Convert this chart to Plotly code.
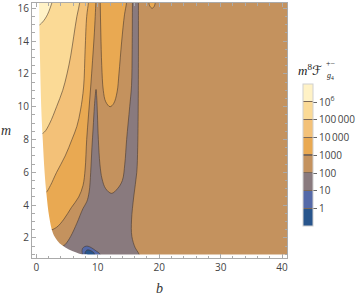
import plotly.graph_objects as go

# ---- colour levels (log10 of m^8 F) ----
levels = [0, 1, 2, 3, 4, 5, 6]
level_labels = ['1', '10', '100', '1000', '10\u2009000', '100\u2009000', '10<sup>6</sup>']
band_colors = ['#28558C', '#5469A8', '#897A7E', '#C4925E', '#E9A952', '#F3C178', '#FBDA96', '#FFF2C6']
line_col = 'rgba(70,55,45,0.65)'
bar_line_col = 'rgb(125,105,88)'

# ---- contour lines, (b, m) ----
# 10^6 level (upper-left corner)
c6_b = [3.1, 2.6, 1.8, 1.0, 0.3, -3, -3]
c6_m = [17.0, 16.4, 15.6, 15.15, 14.95, 14.95, 20]
# 10^5 level
c5_b = [7.3, 7.1, 6.6, 6.1, 5.6, 5.0, 4.3, 3.3, 2.2, 1.3, 0.5, -3, -3]
c5_m = [17.2, 16.4, 15.5, 14.3, 13.1, 12.0, 11.0, 10.0, 9.0, 8.45, 8.3, 8.3, 20]
# 10^4 level
c4_b = [8.6, 8.5, 8.2, 7.95, 7.7, 7.2, 6.6, 5.8, 4.7, 3.3, 2.3, 1.6, 1.0, -3, -3]
c4_m = [17.2, 16.4, 15.5, 13.5, 11.2, 9.8, 8.8, 8.0, 7.0, 6.0, 5.2, 4.78, 4.7, 4.7, 20]
# 10^3 level (left branch)
c3_b = [9.8, 9.7, 9.45, 9.15, 8.85, 8.5, 8.2, 7.95, 7.6, 6.9, 5.7, 4.5, 3.3, 2.0, -3, -3]
c3_m = [17.2, 16.4, 14.5, 12.8, 11.2, 9.5, 8.0, 6.2, 5.2, 4.5, 3.85, 3.15, 2.65, 2.45, 2.45, 20]
# 10^3 level (tongue between the two minima)
c3u_b = [10.35, 10.4, 10.5, 10.65, 10.9, 11.3, 12.0, 12.6, 13.15, 13.45, 13.9, 14.35, 14.7, 14.8]
c3u_m = [18.0, 16.4, 14.5, 12.5, 11.0, 10.3, 10.0, 10.2, 10.9, 12.0, 14.0, 15.6, 16.4, 18.0]
# 10^3 level (small bump at the top)
c3s_b = [18.25, 18.3, 18.45, 18.85, 19.2, 19.4, 19.45]
c3s_m = [18.0, 16.5, 16.15, 16.0, 16.12, 16.5, 18.0]
# 10^2 level (one region: spike, lower basin and strip)
c2_b = [3.0, 4.0, 4.7, 5.6, 6.6, 7.6, 8.2, 8.6, 8.85, 9.05, 9.25, 9.45, 9.6, 9.72,
        9.83, 9.95, 10.1, 10.35, 10.7, 11.3, 12.25, 13.2, 14.0, 14.4, 14.7, 15.2, 15.5, 15.6, 15.65, 15.7,
        16.6, 16.62, 16.6, 16.5, 16.35, 15.85, 15.5, 15.55, 16.1, 16.6, 16.9, 17.0]
c2_m = [0.3, 1.4, 1.6, 2.1, 2.9, 3.8, 4.2, 4.8, 6.0, 7.5, 8.7, 10.0, 10.7, 11.05,
        10.6, 9.5, 8.0, 6.5, 5.6, 5.0, 4.72, 5.0, 5.5, 6.5, 8.0, 10.0, 11.3, 13.5, 16.4, 18.0,
        18.0, 16.4, 11.0, 7.5, 6.0, 4.5, 3.1, 2.1, 1.4, 1.1, 0.8, 0.3]
# 10 level
c1_b = [7.7, 7.45, 7.5, 7.9, 8.4, 9.0, 9.7, 10.3, 10.6]
c1_m = [0.7, 1.12, 1.35, 1.48, 1.5, 1.4, 1.22, 1.05, 0.8]
# 1 level
c0_b = [8.0, 7.95, 8.3, 8.9, 9.4, 9.6]
c0_m = [0.8, 1.12, 1.27, 1.22, 1.08, 0.8]
# edge of the region where the function is plotted
edge_b = [0.4, 0.45, 0.6, 0.8, 1.05, 1.35, 1.65, 2.1, 2.7, 3.4, 4.2, 5.3, 6.4, 7.4, 8.5, 8.5, -5, -5]
edge_m = [20, 16.5, 13, 10, 8, 6, 4.7, 3.3, 2.3, 1.85, 1.55, 1.3, 1.13, 1.0, 0.93, -2, -2, 20]
m_min = 1.0
b_lo, b_hi = -5, 50

# stepped colour scale for the legend bar: 8 bands from -1 to 7, thin lines at the levels
eps = 0.0045
bar_scale = []
n = len(band_colors)
for k, c in enumerate(band_colors):
    lo, hi = k / n, (k + 1) / n
    if k > 0:
        bar_scale.append([lo, bar_line_col])
        bar_scale.append([lo + eps, bar_line_col])
        bar_scale.append([lo + eps + 1e-6, c])
    else:
        bar_scale.append([lo, c])
    if k < n - 1:
        bar_scale.append([hi - eps - 1e-6, c])
        bar_scale.append([hi - eps, bar_line_col])
    else:
        bar_scale.append([hi, c])

fig = go.Figure()

# dummy heatmap placed off-screen, only to draw the colour bar
fig.add_trace(go.Heatmap(
    x=[100, 101], y=[100, 101], z=[[-1, 7], [-1, 7]],
    zmin=levels[0] - 1, zmax=levels[-1] + 1,
    colorscale=bar_scale, hoverinfo='skip',
    colorbar=dict(
        x=(303 - 32) / 255, xanchor='left', xpad=0,
        y=1 - (155.3 - 3) / 255, yanchor='middle', ypad=0,
        len=141.5, lenmode='pixels', thickness=10,
        outlinewidth=1, outlinecolor='#d0d0d0',
        tickmode='array', tickvals=levels, ticktext=level_labels,
        ticks='outside', ticklen=4, tickcolor='#666', tickwidth=1,
        tickfont=dict(family='Open Sans, DejaVu Sans', size=10, color='#444'),
    ),
))


def poly(bs, ms, color, line=True):
    fig.add_trace(go.Scatter(
        x=bs, y=ms, mode='lines', fill='toself', fillcolor=color,
        line=dict(color=line_col if line else color, width=0.9 if line else 0,
                  shape='spline', smoothing=1),
        hoverinfo='skip', showlegend=False))


poly(c3_b, c3_m, band_colors[4])
poly(c4_b, c4_m, band_colors[5])
poly(c5_b, c5_m, band_colors[6])
poly(c6_b, c6_m, band_colors[7])
poly(c3u_b, c3u_m, band_colors[4])
poly(c3s_b, c3s_m, band_colors[4])
poly(c2_b, c2_m, band_colors[2])
poly(c1_b, c1_m, band_colors[1])
poly(c0_b, c0_m, band_colors[0])
poly(edge_b, edge_m, 'white', line=False)
fig.add_trace(go.Scatter(
    x=[b_lo, b_hi, b_hi, b_lo], y=[m_min, m_min, -2, -2], mode='lines', fill='toself',
    fillcolor='white', line=dict(width=0, color='white'), hoverinfo='skip', showlegend=False))

axis_common = dict(
    showline=True, mirror='ticks', linecolor='#aaaaaa', linewidth=1,
    ticks='inside', ticklen=4, tickcolor='#aaaaaa', tickwidth=1,
    showgrid=False, zeroline=False, automargin=False,
    tickfont=dict(family='Open Sans, DejaVu Sans', size=10, color='#444'),
)
fig.update_xaxes(range=[-0.7, 40.8], tick0=0, dtick=10,
                 minor=dict(dtick=2, ticks='inside', ticklen=2.5, tickcolor='#aaaaaa'),
                 **axis_common)
fig.update_yaxes(range=[0.78, 16.32], tick0=0, dtick=2,
                 minor=dict(dtick=0.5, ticks='inside', ticklen=2.5, tickcolor='#aaaaaa'),
                 **axis_common)

serif = 'Liberation Serif, DejaVu Serif, DejaVu Sans'
fig.update_layout(
    width=359, height=301,
    margin=dict(l=32, r=72, t=3, b=43),
    plot_bgcolor=band_colors[3], paper_bgcolor='white',
    showlegend=False,
    annotations=[
        dict(text='<i>b</i>', xref='paper', yref='paper', x=0.5, y=0, yshift=-30,
             xanchor='center', yanchor='middle', showarrow=False,
             font=dict(family=serif, size=14, color='#333')),
        dict(text='<i>m</i>', xref='paper', yref='paper', x=0, xshift=-26, y=0.5,
             xanchor='center', yanchor='middle', showarrow=False,
             font=dict(family=serif, size=14, color='#333')),
        dict(text='<i>m</i><sup>8</sup>\u2131', xref='paper', yref='paper',
             x=(324 - 32) / 255, y=1 - (70 - 3) / 255, xanchor='right', yanchor='middle',
             showarrow=False, font=dict(family=serif, size=13, color='#222')),
        dict(text='+\u2212', xref='paper', yref='paper',
             x=(324 - 32) / 255, y=1 - (63 - 3) / 255, xanchor='left', yanchor='middle',
             showarrow=False, font=dict(family=serif, size=8, color='#222')),
        dict(text='<i>g</i><sub>4</sub>', xref='paper', yref='paper',
             x=(324.5 - 32) / 255, y=1 - (76 - 3) / 255, xanchor='left', yanchor='middle',
             showarrow=False, font=dict(family=serif, size=8, color='#222')),
    ],
)

fig.write_html('out.html', config={'displayModeBar': False},
               post_script="document.body.style.margin='0px';")
